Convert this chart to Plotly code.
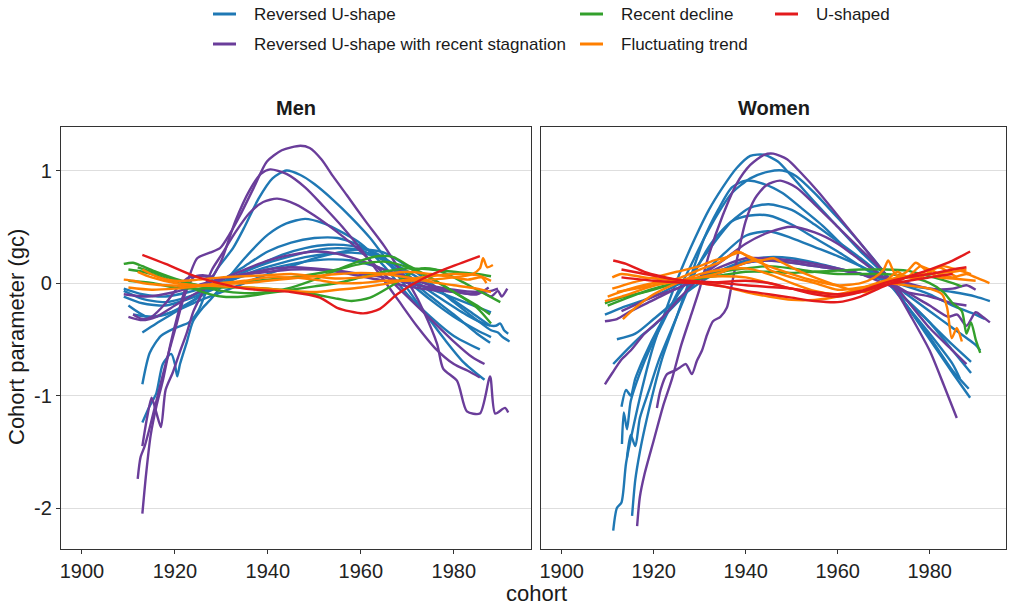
import plotly.graph_objects as go

# ---------------- categories / colours ----------------
CATEGORIES = ["Reversed U-shape", "Reversed U-shape with recent stagnation",
              "Recent decline", "Fluctuating trend", "U-shaped"]
COLORS = {"Reversed U-shape": "#1F78B4",
          "Reversed U-shape with recent stagnation": "#6A3D9A",
          "Recent decline": "#33A02C",
          "Fluctuating trend": "#FF7F00",
          "U-shaped": "#E31A1C"}

X_TICKS = [1900, 1920, 1940, 1960, 1980]
Y_TICKS = [-2, -1, 0, 1]
Y_TICK_LABELS = ["-2", "-1", "0", "1"]

# ---------------- MEN: (cohort, gc) ----------------
MEN_B1 = [(1913,-0.9),(1914.6,-0.62),(1917,-0.47),(1920,-0.4),(1923,-0.35),(1925,-0.25),(1927,-0.05),(1929,0.12),(1932.5,0.31),(1935,0.5),(1938,0.75),(1941,0.93),(1944,1.0),(1947,0.96),(1950,0.88),(1954,0.74),(1958,0.58),(1962,0.4),(1966,0.18),(1970,-0.05),(1974,-0.28),(1978,-0.5),(1982,-0.7),(1986.6,-0.86)]
MEN_B2 = [(1913,-1.24),(1914.5,-1.1),(1916,-0.98),(1917.4,-0.72),(1919.2,-0.63),(1920,-0.72),(1920.5,-0.83),(1921.1,-0.72),(1922.6,-0.52),(1923.9,-0.34),(1926,-0.22),(1928,-0.13),(1931,0.02),(1935,0.22),(1940,0.43),(1944,0.53),(1948,0.57),(1952,0.53),(1956,0.45),(1960,0.35),(1965,0.15),(1970,-0.1),(1975,-0.3),(1980,-0.47),(1985.6,-0.59)]
MEN_B3 = [(1910,-0.2),(1914,-0.3),(1918,-0.28),(1922,-0.2),(1926,-0.1),(1930,0.02),(1935,0.15),(1940,0.28),(1945,0.36),(1950,0.4),(1955,0.4),(1960,0.33),(1965,0.2),(1970,0.02),(1975,-0.15),(1980,-0.3),(1985,-0.42),(1988,-0.48)]
MEN_B4 = [(1909,-0.07),(1913,-0.14),(1918,-0.17),(1923,-0.12),(1928,-0.04),(1933,0.06),(1938,0.16),(1943,0.25),(1948,0.31),(1953,0.34),(1958,0.33),(1963,0.27),(1968,0.14),(1973,-0.02),(1978,-0.16),(1983,-0.29),(1987,-0.37),(1989,-0.38),(1990,-0.36),(1990.8,-0.42),(1991.7,-0.45)]
MEN_B5 = [(1913,-0.44),(1916,-0.36),(1920,-0.26),(1925,-0.13),(1930,0.0),(1935,0.1),(1940,0.18),(1945,0.24),(1950,0.29),(1955,0.31),(1960,0.29),(1965,0.2),(1970,0.05),(1975,-0.12),(1980,-0.28),(1985,-0.45),(1987.8,-0.53)]
MEN_B6 = [(1909,-0.12),(1913,-0.18),(1918,-0.2),(1923,-0.14),(1928,-0.06),(1933,0.04),(1938,0.12),(1943,0.18),(1948,0.23),(1953,0.26),(1958,0.27),(1963,0.24),(1968,0.15),(1973,0.03),(1978,-0.1),(1983,-0.24),(1987.8,-0.38)]
MEN_B7 = [(1911,-0.28),(1915,-0.3),(1920,-0.25),(1925,-0.16),(1930,-0.08),(1935,0.0),(1940,0.08),(1945,0.15),(1950,0.22),(1955,0.27),(1960,0.3),(1965,0.27),(1970,0.15),(1975,0.0),(1980,-0.17),(1985,-0.33),(1988,-0.42),(1989.5,-0.44),(1990.5,-0.48),(1992,-0.52)]
MEN_B8 = [(1909,-0.05),(1913,-0.1),(1918,-0.12),(1923,-0.08),(1928,-0.02),(1933,0.04),(1938,0.1),(1943,0.15),(1948,0.19),(1953,0.21),(1958,0.2),(1963,0.15),(1968,0.07),(1973,-0.02),(1978,-0.1),(1983,-0.18),(1988,-0.26)]

MEN_P1 = [(1913,-2.05),(1913.8,-1.7),(1914.8,-1.35),(1916,-1.1),(1917.5,-0.85),(1919,-0.55),(1920.5,-0.3),(1922,-0.08),(1924.8,0.22),(1927.5,0.27),(1929.7,0.31),(1932,0.45),(1934,0.6),(1937,0.85),(1939.8,1.08),(1943,1.18),(1947,1.22),(1949,1.2),(1951.5,1.1),(1954,0.95),(1957,0.78),(1961,0.55),(1965,0.33),(1968,0.14),(1971,-0.05),(1973.5,-0.25),(1976.4,-0.54),(1977.7,-0.76),(1980.7,-0.87),(1982.8,-1.14),(1985.6,-1.16),(1987.8,-0.83),(1988.9,-1.16),(1991,-1.11),(1991.7,-1.15)]
MEN_P2 = [(1912,-1.74),(1912.6,-1.55),(1913.5,-1.45),(1914.5,-1.3),(1916,-1.05),(1918,-0.72),(1920,-0.42),(1922,-0.12),(1924,0.05),(1926,0.07),(1928,0.06),(1930,0.2),(1933,0.55),(1936,0.82),(1938.5,0.97),(1940.5,1.01),(1944,0.97),(1948,0.85),(1952,0.68),(1956,0.5),(1960,0.3),(1964,0.08),(1968,-0.15),(1972,-0.38),(1976,-0.58),(1980,-0.72),(1983,-0.78),(1985.6,-0.84)]
MEN_P3 = [(1913,-1.45),(1914,-1.2),(1915,-1.02),(1916,-1.15),(1917,-1.28),(1918,-0.95),(1919.5,-0.8),(1921,-0.62),(1922.5,-0.45),(1924,-0.25),(1926,-0.08),(1928,0.12),(1930,0.25),(1933,0.45),(1936,0.62),(1939,0.72),(1942,0.75),(1946,0.7),(1950,0.6),(1955,0.45),(1960,0.28),(1965,0.08),(1970,-0.12),(1975,-0.32),(1980,-0.52),(1984,-0.66),(1986.6,-0.72)]
MEN_P4 = [(1910,-0.3),(1913,-0.33),(1916,-0.3),(1920,-0.2),(1925,-0.08),(1930,0.03),(1935,0.12),(1940,0.2),(1945,0.25),(1950,0.28),(1955,0.26),(1960,0.2),(1965,0.12),(1970,0.05),(1975,-0.02),(1980,-0.06),(1985,-0.08),(1988,-0.07),(1989.5,-0.05)]
MEN_P5 = [(1909,-0.1),(1914,-0.12),(1920,-0.08),(1925,-0.02),(1930,0.04),(1935,0.08),(1940,0.12),(1945,0.14),(1950,0.13),(1955,0.11),(1960,0.08),(1965,0.05),(1970,0.0),(1975,-0.04),(1980,-0.07),(1984,-0.1),(1986,-0.08),(1988,-0.12),(1989.5,-0.07),(1990.3,-0.12),(1991.5,-0.05)]
MEN_P6 = [(1911,-0.28),(1913,-0.32),(1915,-0.3),(1918,-0.18),(1921,-0.02),(1923,0.05),(1926,0.06),(1929,0.04),(1932,0.05),(1936,0.08),(1940,0.1),(1945,0.12),(1950,0.12),(1955,0.1),(1960,0.06),(1965,0.02),(1970,-0.03),(1975,-0.06),(1980,-0.08),(1985,-0.1),(1987.5,-0.04)]

MEN_G1 = [(1909,0.17),(1911,0.18),(1913,0.15),(1916,0.1),(1920,0.04),(1925,-0.02),(1930,-0.07),(1935,-0.09),(1940,-0.08),(1945,-0.04),(1950,0.03),(1955,0.12),(1960,0.2),(1964,0.24),(1967,0.23),(1970,0.16),(1975,0.05),(1980,-0.08),(1985,-0.2),(1987.8,-0.28)]
MEN_G2 = [(1910,0.12),(1913,0.1),(1918,0.04),(1922,-0.02),(1926,-0.08),(1930,-0.12),(1935,-0.12),(1940,-0.09),(1945,-0.06),(1950,-0.03),(1955,0.0),(1960,0.05),(1965,0.1),(1970,0.13),(1975,0.12),(1980,0.1),(1985,0.08),(1988,0.06)]
MEN_G3 = [(1910,0.02),(1915,0.0),(1920,-0.04),(1925,-0.05),(1930,-0.04),(1935,-0.04),(1940,-0.05),(1945,-0.07),(1950,-0.1),(1955,-0.14),(1958,-0.16),(1962,-0.13),(1966,-0.04),(1970,0.07),(1973,0.13),(1976,0.12),(1980,0.05),(1985,-0.06),(1990,-0.17)]
MEN_G4 = [(1912,0.14),(1915,0.1),(1920,0.03),(1925,-0.02),(1930,-0.01),(1935,0.01),(1940,0.03),(1945,0.05),(1950,0.08),(1955,0.12),(1960,0.17),(1965,0.19),(1970,0.14),(1975,0.04),(1980,-0.08),(1985,-0.22),(1988,-0.36)]

MEN_O1 = [(1909,0.03),(1911,0.02),(1913,0.0),(1918,-0.02),(1925,-0.02),(1930,0.0),(1935,0.02),(1940,0.05),(1945,0.05),(1950,0.03),(1955,0.0),(1960,0.0),(1965,0.02),(1970,0.02),(1975,0.03),(1980,0.05),(1984,0.08),(1985.6,0.13),(1986.3,0.22),(1987.2,0.14),(1988.4,0.16)]
MEN_O2 = [(1910,-0.04),(1915,-0.06),(1920,-0.05),(1925,-0.03),(1930,-0.01),(1935,0.0),(1940,0.02),(1945,0.04),(1950,0.06),(1955,0.08),(1960,0.09),(1965,0.08),(1970,0.05),(1975,0.01),(1980,-0.02),(1985,-0.05),(1988,-0.08)]
MEN_O3 = [(1912,0.1),(1915,0.05),(1920,0.0),(1925,-0.02),(1930,-0.03),(1935,-0.04),(1940,-0.05),(1945,-0.07),(1950,-0.08),(1955,-0.06),(1960,-0.04),(1965,-0.01),(1970,0.03),(1975,0.06),(1980,0.08),(1985,0.07),(1988,0.02)]
MEN_O4 = [(1913,0.12),(1916,0.06),(1920,0.02),(1925,0.03),(1930,0.05),(1935,0.06),(1940,0.07),(1945,0.08),(1950,0.06),(1955,0.04),(1960,0.05),(1965,0.08),(1970,0.1),(1975,0.08),(1980,0.05),(1983,0.03),(1986,0.05),(1987,0.0)]

MEN_R1 = [(1913,0.25),(1918,0.17),(1925,0.05),(1935,-0.05),(1945,-0.08),(1951.2,-0.13),(1954.9,-0.22),(1960.5,-0.27),(1964.1,-0.23),(1967.8,-0.1),(1973.4,0.04),(1978.5,0.13),(1985.6,0.24)]

# ---------------- WOMEN ----------------
WOMEN_B1 = [(1911.2,-2.2),(1912,-2.0),(1913,-1.95),(1914,-1.6),(1916,-1.2),(1918,-0.85),(1920,-0.55),(1923,-0.2),(1926,0.12),(1929,0.4),(1932,0.65),(1935,0.85),(1938,1.02),(1941,1.13),(1944,1.14),(1947,1.08),(1950,0.95),(1955,0.72),(1960,0.5),(1965,0.28),(1970,0.08),(1975,-0.2),(1980,-0.5),(1985,-0.8),(1988.8,-1.02)]
WOMEN_B2 = [(1913.1,-1.43),(1913.5,-1.15),(1914.2,-1.3),(1915,-1.05),(1917,-0.8),(1919,-0.6),(1922,-0.35),(1925,-0.1),(1928,0.15),(1931,0.4),(1934,0.62),(1937,0.8),(1941,0.93),(1945,0.99),(1948,1.0),(1951,0.95),(1955,0.8),(1960,0.58),(1965,0.35),(1970,0.1),(1975,-0.2),(1980,-0.48),(1985,-0.78),(1988.5,-0.94)]
WOMEN_B3 = [(1915.3,-2.07),(1916,-1.75),(1917,-1.5),(1918,-1.3),(1920,-0.95),(1922,-0.65),(1925,-0.3),(1928,0.05),(1931,0.4),(1934,0.65),(1937,0.85),(1940,0.91),(1944,0.88),(1948,0.8),(1952,0.67),(1957,0.5),(1962,0.3),(1967,0.15),(1971,0.0),(1975,-0.2),(1980,-0.45),(1985,-0.72),(1986.6,-0.85)]
WOMEN_B4 = [(1913,-1.1),(1914,-0.95),(1915,-1.0),(1916,-0.85),(1918,-0.65),(1921,-0.4),(1925,-0.12),(1929,0.12),(1933,0.35),(1937,0.55),(1941,0.67),(1945,0.7),(1950,0.65),(1955,0.52),(1960,0.37),(1965,0.22),(1970,0.05),(1975,-0.15),(1980,-0.35),(1985,-0.55),(1989,-0.7)]
WOMEN_B5 = [(1911.2,-0.72),(1914,-0.6),(1917,-0.48),(1920,-0.38),(1925,-0.18),(1930,0.05),(1935,0.25),(1940,0.42),(1945,0.46),(1950,0.4),(1955,0.32),(1960,0.24),(1965,0.15),(1970,0.05),(1975,-0.1),(1980,-0.25),(1985,-0.4),(1990,-0.55),(1991,-0.6)]
WOMEN_B6 = [(1909.4,-0.28),(1913,-0.22),(1918,-0.15),(1922,-0.08),(1926,0.0),(1930,0.05),(1935,0.12),(1940,0.18),(1945,0.2),(1950,0.18),(1955,0.15),(1960,0.12),(1965,0.08),(1970,0.03),(1975,-0.02),(1980,-0.05),(1985,-0.08),(1990,-0.12),(1993.1,-0.16)]
WOMEN_B7 = [(1914.2,-1.55),(1915,-1.35),(1916,-1.45),(1917,-1.2),(1919,-0.95),(1921,-0.7),(1924,-0.4),(1927,-0.1),(1930,0.18),(1933,0.38),(1937,0.55),(1941,0.6),(1945,0.6),(1950,0.52),(1955,0.4),(1960,0.28),(1965,0.15),(1970,0.02),(1975,-0.15),(1980,-0.35),(1985,-0.6),(1989,-0.8)]
WOMEN_B8 = [(1912,-0.5),(1916,-0.45),(1920,-0.32),(1925,-0.15),(1930,0.0),(1935,0.12),(1940,0.2),(1945,0.23),(1950,0.22),(1955,0.18),(1960,0.13),(1965,0.08),(1970,0.03),(1975,-0.03),(1980,-0.1),(1985,-0.2),(1990,-0.28),(1992,-0.32)]

WOMEN_P1 = [(1916.4,-2.16),(1917,-1.9),(1918,-1.7),(1920,-1.4),(1922,-1.1),(1924,-0.85),(1926,-0.55),(1928,-0.3),(1930,-0.05),(1932,0.25),(1935,0.6),(1938,0.88),(1941,1.05),(1944,1.14),(1946,1.15),(1949,1.1),(1952,0.98),(1956,0.8),(1960,0.6),(1964,0.4),(1968,0.2),(1972,-0.02),(1976,-0.3),(1980,-0.6),(1983,-0.9),(1985.9,-1.2)]
WOMEN_P2 = [(1920.7,-1.11),(1921.5,-0.95),(1922.9,-0.81),(1924.5,-0.78),(1925.7,-0.75),(1927,-0.72),(1928.3,-0.81),(1929.4,-0.69),(1930.5,-0.6),(1931.6,-0.46),(1932.9,-0.34),(1934.5,-0.3),(1935.9,-0.22),(1936.8,-0.05),(1938.3,0.25),(1940,0.55),(1942,0.75),(1944.5,0.87),(1947.5,0.91),(1951,0.85),(1955,0.7),(1960,0.5),(1965,0.3),(1970,0.1),(1975,-0.15),(1980,-0.4),(1985,-0.6),(1988,-0.72)]
WOMEN_P3 = [(1909.4,-0.9),(1911,-0.8),(1913,-0.68),(1915,-0.6),(1918,-0.45),(1922,-0.3),(1926,-0.12),(1930,0.05),(1935,0.2),(1940,0.35),(1945,0.45),(1950,0.5),(1955,0.45),(1960,0.35),(1965,0.2),(1970,0.05),(1975,-0.08),(1980,-0.2),(1984,-0.3),(1986,-0.28),(1988,-0.38),(1990,-0.26),(1991.5,-0.3),(1993.1,-0.35)]
WOMEN_P4 = [(1909.4,-0.34),(1912,-0.32),(1915,-0.25),(1920,-0.15),(1925,-0.05),(1930,0.03),(1935,0.1),(1940,0.18),(1945,0.2),(1950,0.18),(1955,0.15),(1960,0.12),(1965,0.08),(1970,0.05),(1975,0.0),(1980,-0.05),(1985,-0.05),(1988,-0.02),(1990,-0.06)]
WOMEN_P5 = [(1913,-0.25),(1920,-0.12),(1925,-0.05),(1930,0.05),(1935,0.15),(1940,0.22),(1945,0.22),(1950,0.2),(1955,0.17),(1960,0.13),(1965,0.08),(1970,0.0),(1975,-0.08),(1980,-0.12),(1985,-0.18),(1988,-0.2)]

WOMEN_G1 = [(1909.4,-0.18),(1913,-0.13),(1918,-0.08),(1925,0.0),(1930,0.05),(1935,0.1),(1940,0.13),(1945,0.15),(1950,0.13),(1955,0.1),(1960,0.08),(1965,0.08),(1970,0.08),(1975,0.06),(1980,0.0),(1983,-0.08),(1985,-0.18),(1987,-0.25),(1988,-0.45),(1989,-0.35),(1990,-0.5),(1991,-0.62)]
WOMEN_G2 = [(1910,-0.2),(1915,-0.12),(1920,-0.05),(1925,0.0),(1930,0.04),(1935,0.07),(1940,0.1),(1945,0.1),(1950,0.09),(1955,0.1),(1960,0.11),(1965,0.12),(1970,0.12),(1975,0.11),(1980,0.06),(1985,0.0),(1987,-0.03)]

WOMEN_O1 = [(1909.4,-0.16),(1913,-0.12),(1918,-0.05),(1922,0.0),(1926,0.05),(1930,0.12),(1934,0.18),(1937,0.25),(1939,0.27),(1941,0.22),(1945,0.15),(1950,0.08),(1955,0.02),(1960,-0.02),(1965,0.0),(1968,0.05),(1970,0.12),(1971,0.2),(1972.5,0.08),(1975,0.05),(1978,0.05),(1980,0.1),(1982,0.14),(1984,0.1),(1986,0.05)]
WOMEN_O2 = [(1913.3,-0.32),(1916,-0.22),(1920,-0.1),(1925,0.0),(1930,0.08),(1935,0.12),(1940,0.13),(1945,0.08),(1950,0.0),(1955,-0.07),(1960,-0.1),(1965,-0.08),(1970,-0.02),(1975,0.05),(1978,0.08),(1980,0.12),(1982,0.08),(1985,0.05),(1988,0.08),(1990,0.05),(1993,0.0)]
WOMEN_O3 = [(1911,0.05),(1913,0.08),(1918,0.05),(1925,0.02),(1930,0.0),(1935,-0.03),(1940,-0.08),(1945,-0.12),(1950,-0.15),(1955,-0.15),(1960,-0.12),(1965,-0.05),(1970,0.02),(1975,0.06),(1980,0.08),(1985,0.1),(1988,0.12)]
WOMEN_O4 = [(1910,-0.12),(1915,-0.05),(1920,0.0),(1925,0.02),(1930,0.05),(1935,0.06),(1940,0.05),(1945,0.0),(1950,-0.05),(1955,-0.08),(1960,-0.1),(1965,-0.05),(1970,0.0),(1975,-0.02),(1980,-0.05),(1982.7,-0.1),(1983.8,-0.22),(1984.8,-0.49),(1985.9,-0.4),(1987,-0.52)]
WOMEN_O5 = [(1912,-0.08),(1920,-0.02),(1930,0.05),(1935,0.1),(1940,0.18),(1943,0.2),(1945,0.12),(1950,0.05),(1955,0.0),(1960,-0.06),(1965,-0.04),(1970,0.0),(1975,0.1),(1977,0.18),(1979,0.12),(1982,0.05),(1985,0.04),(1990,0.02)]
WOMEN_O6 = [(1911,-0.05),(1915,0.0),(1920,0.05),(1925,0.1),(1930,0.15),(1933,0.2),(1936,0.23),(1938,0.28),(1940,0.25),(1943,0.2),(1946,0.22),(1948,0.18),(1952,0.1),(1957,0.02),(1962,-0.05),(1966,-0.08),(1970,0.0),(1973,0.1),(1975,0.05),(1978,0.15),(1980,0.12),(1983,0.15),(1985,0.13),(1989,0.08)]

WOMEN_R1 = [(1911.2,0.2),(1914,0.17),(1918,0.1),(1925,0.03),(1930,0.0),(1935,-0.03),(1940,-0.07),(1945,-0.1),(1950,-0.13),(1955,-0.16),(1960,-0.17),(1965,-0.12),(1970,-0.03),(1975,0.05),(1980,0.12),(1985,0.2),(1988.8,0.28)]
WOMEN_R2 = [(1913,0.12),(1918,0.08),(1925,0.03),(1935,0.0),(1940,-0.02),(1950,-0.05),(1955,-0.08),(1960,-0.1),(1965,-0.07),(1970,0.0),(1975,0.05),(1980,0.08),(1985,0.12),(1988,0.14)]
WOMEN_R3 = [(1913,0.05),(1920,0.02),(1930,0.0),(1940,0.02),(1945,0.0),(1950,-0.05),(1955,-0.1),(1960,-0.12),(1965,-0.08),(1970,-0.02),(1980,0.05),(1985,0.08)]

MEN_LINES = [
    ("Reversed U-shape", MEN_B1), ("Reversed U-shape", MEN_B2), ("Reversed U-shape", MEN_B3),
    ("Reversed U-shape", MEN_B4), ("Reversed U-shape", MEN_B5), ("Reversed U-shape", MEN_B6),
    ("Reversed U-shape", MEN_B7), ("Reversed U-shape", MEN_B8),
    ("Reversed U-shape with recent stagnation", MEN_P1), ("Reversed U-shape with recent stagnation", MEN_P2),
    ("Reversed U-shape with recent stagnation", MEN_P3), ("Reversed U-shape with recent stagnation", MEN_P4),
    ("Reversed U-shape with recent stagnation", MEN_P5), ("Reversed U-shape with recent stagnation", MEN_P6),
    ("Recent decline", MEN_G1), ("Recent decline", MEN_G2), ("Recent decline", MEN_G3), ("Recent decline", MEN_G4),
    ("Fluctuating trend", MEN_O1), ("Fluctuating trend", MEN_O2), ("Fluctuating trend", MEN_O3), ("Fluctuating trend", MEN_O4),
    ("U-shaped", MEN_R1),
]
WOMEN_LINES = [
    ("Reversed U-shape", WOMEN_B1), ("Reversed U-shape", WOMEN_B2), ("Reversed U-shape", WOMEN_B3),
    ("Reversed U-shape", WOMEN_B4), ("Reversed U-shape", WOMEN_B5), ("Reversed U-shape", WOMEN_B6),
    ("Reversed U-shape", WOMEN_B7), ("Reversed U-shape", WOMEN_B8),
    ("Reversed U-shape with recent stagnation", WOMEN_P1), ("Reversed U-shape with recent stagnation", WOMEN_P2),
    ("Reversed U-shape with recent stagnation", WOMEN_P3), ("Reversed U-shape with recent stagnation", WOMEN_P4),
    ("Reversed U-shape with recent stagnation", WOMEN_P5),
    ("Recent decline", WOMEN_G1), ("Recent decline", WOMEN_G2),
    ("Fluctuating trend", WOMEN_O1), ("Fluctuating trend", WOMEN_O2), ("Fluctuating trend", WOMEN_O3),
    ("Fluctuating trend", WOMEN_O4), ("Fluctuating trend", WOMEN_O5), ("Fluctuating trend", WOMEN_O6),
    ("U-shaped", WOMEN_R1), ("U-shaped", WOMEN_R2), ("U-shaped", WOMEN_R3),
]

FONT = "Liberation Sans, Arial, Helvetica, sans-serif"

fig = go.Figure()
for lines, xa, ya in [(MEN_LINES, "x", "y"), (WOMEN_LINES, "x2", "y2")]:
    for cat, pts in lines:
        fig.add_trace(go.Scatter(
            x=[p[0] for p in pts], y=[p[1] for p in pts], mode="lines",
            line=dict(color=COLORS[cat], width=2.4, shape="spline", smoothing=0.7),
            xaxis=xa, yaxis=ya, showlegend=False, hoverinfo="skip"))

W, H = 1011, 605
ML, MR, MT, MB = 61, 5, 127, 56
PW, PH = W - ML - MR, H - MT - MB

def px_x(p):
    return (p - ML) / PW

def px_y(p):
    return (H - MB - p) / PH

axis_common = dict(range=[1895.5, 1996.6], showgrid=False, zeroline=False,
                   showline=True, linecolor="#333333", linewidth=1.2, mirror=True,
                   ticks="outside", ticklen=4, tickcolor="#333333",
                   tickvals=X_TICKS, tickfont=dict(size=20, color="#222222", family=FONT))
yaxis_common = dict(range=[-2.364, 1.387], showgrid=True, gridcolor="#DEDEDE", gridwidth=1,
                    zeroline=False, showline=True, linecolor="#333333", linewidth=1.2, mirror=True,
                    tickvals=Y_TICKS, ticktext=Y_TICK_LABELS)

fig.update_layout(
    width=W, height=H, margin=dict(l=ML, r=MR, t=MT, b=MB),
    paper_bgcolor="white", plot_bgcolor="white",
    font=dict(family=FONT, color="#222222"),
    xaxis=dict(domain=[0, px_x(531)], **axis_common),
    xaxis2=dict(domain=[px_x(541), 1], **axis_common),
    yaxis=dict(anchor="x", ticks="outside", ticklen=4, tickcolor="#333333",
               tickfont=dict(size=20, color="#222222", family=FONT), **yaxis_common),
    yaxis2=dict(anchor="x2", matches="y", showticklabels=False, ticks="", **yaxis_common),
    showlegend=False,
)

ann = []
# panel strips
ann.append(dict(text="<b>Men</b>", x=(px_x(61) + px_x(531)) / 2, y=px_y(108), xref="paper", yref="paper",
                showarrow=False, xanchor="center", yanchor="middle", font=dict(size=20, color="#1a1a1a", family=FONT)))
ann.append(dict(text="<b>Women</b>", x=(px_x(541) + px_x(1006)) / 2, y=px_y(108), xref="paper", yref="paper",
                showarrow=False, xanchor="center", yanchor="middle", font=dict(size=20, color="#1a1a1a", family=FONT)))
# axis titles
ann.append(dict(text="cohort", x=px_x(536), y=px_y(593), xref="paper", yref="paper", showarrow=False,
                xanchor="center", yanchor="middle", font=dict(size=22, color="#1a1a1a", family=FONT)))
ann.append(dict(text="Cohort parameter (gc)", x=px_x(16), y=px_y(337), xref="paper", yref="paper",
                showarrow=False, textangle=-90, xanchor="center", yanchor="middle",
                font=dict(size=22, color="#1a1a1a", family=FONT)))

# legend (manual, two rows)
LEGEND_POS = [("Reversed U-shape", 213, 14), ("Recent decline", 580, 14), ("U-shaped", 775, 14),
              ("Reversed U-shape with recent stagnation", 213, 44), ("Fluctuating trend", 580, 44)]
shapes = []
for cat, lx, ly in LEGEND_POS:
    shapes.append(dict(type="line", xref="paper", yref="paper", x0=px_x(lx), x1=px_x(lx + 23),
                       y0=px_y(ly), y1=px_y(ly), line=dict(color=COLORS[cat], width=3)))
    ann.append(dict(text=cat, x=px_x(lx + 39), y=px_y(ly), xref="paper", yref="paper", showarrow=False,
                    xanchor="left", yanchor="middle", font=dict(size=17, color="#1a1a1a", family=FONT)))

fig.update_layout(annotations=ann, shapes=shapes)
fig.write_html("out.html")
